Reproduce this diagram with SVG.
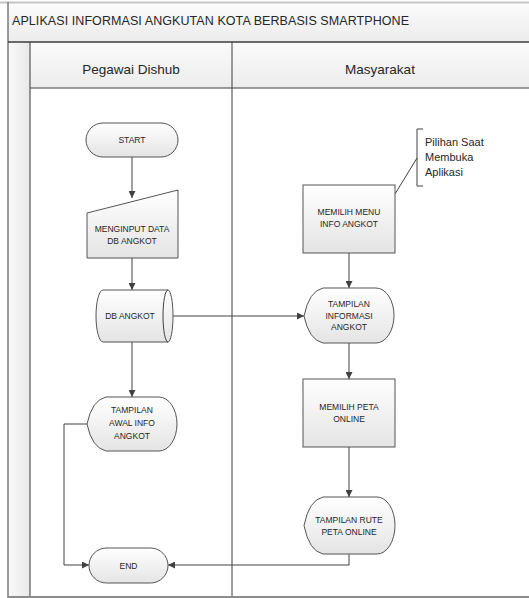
<svg xmlns="http://www.w3.org/2000/svg" width="529" height="598" viewBox="0 0 529 598">
  <defs>
    <linearGradient id="shapeFill" x1="0" y1="0" x2="0" y2="1">
      <stop offset="0" stop-color="#ffffff"/>
      <stop offset="1" stop-color="#e4e4e4"/>
    </linearGradient>
    <linearGradient id="bandFill" x1="0" y1="0" x2="0" y2="1">
      <stop offset="0" stop-color="#fbfbfb"/>
      <stop offset="1" stop-color="#ececec"/>
    </linearGradient>
    <linearGradient id="stripFill" x1="0" y1="0" x2="1" y2="0">
      <stop offset="0" stop-color="#fafafa"/>
      <stop offset="1" stop-color="#e8e8e8"/>
    </linearGradient>
    <marker id="arrow" viewBox="0 0 10 10" refX="10" refY="5" markerWidth="7" markerHeight="7" markerUnits="userSpaceOnUse" orient="auto">
      <path d="M0,0 L10,5 L0,10 Z" fill="#404040"/>
    </marker>
  </defs>
  <style>
    .shape { fill: url(#shapeFill); stroke: #555555; stroke-width: 1; }
    .label { font-family: "Liberation Sans", Arial, sans-serif; font-size: 8.5px; fill: #262626; text-anchor: middle; }
    .lane { font-family: "Liberation Sans", Arial, sans-serif; font-size: 13.5px; fill: #262626; text-anchor: middle; }
    .title { font-family: "Liberation Sans", Arial, sans-serif; font-size: 12.5px; fill: #262626; }
    .note { font-family: "Liberation Sans", Arial, sans-serif; font-size: 11px; fill: #262626; }
    .conn { fill: none; stroke: #404040; stroke-width: 1; }
  </style>

  <!-- swimlane frame -->
  <g id="frame">
    <rect x="0" y="0" width="529" height="598" fill="#ffffff"/>
    <rect x="8" y="3" width="521" height="39" fill="url(#bandFill)"/>
    <rect x="30" y="42" width="499" height="46" fill="url(#bandFill)"/>
    <rect x="8" y="42" width="22" height="555" fill="url(#stripFill)"/>
    <line x1="0" y1="2.5" x2="529" y2="2.5" stroke="#c4c4c4" stroke-width="2"/>
    <line x1="8" y1="2" x2="8" y2="598" stroke="#7a7a7a" stroke-width="1.5"/>
    <line x1="8" y1="42" x2="529" y2="42" stroke="#3c3c3c" stroke-width="1.5"/>
    <line x1="30" y1="88" x2="529" y2="88" stroke="#7a7a7a" stroke-width="1.5"/>
    <line x1="30" y1="42" x2="30" y2="598" stroke="#555555" stroke-width="1.2"/>
    <line x1="232" y1="42" x2="232" y2="598" stroke="#3c3c3c" stroke-width="1"/>
    <line x1="8" y1="597" x2="529" y2="597" stroke="#8c8c8c" stroke-width="2"/>
    <text class="title" x="12" y="25" textLength="397">APLIKASI INFORMASI ANGKUTAN KOTA BERBASIS SMARTPHONE</text>
    <text class="lane" x="131" y="74">Pegawai Dishub</text>
    <text class="lane" x="380" y="74">Masyarakat</text>
  </g>

  <!-- connectors -->
  <g id="connectors">
    <line class="conn" x1="132" y1="157" x2="132" y2="198" marker-end="url(#arrow)"/>
    <line class="conn" x1="132" y1="258" x2="132" y2="290" marker-end="url(#arrow)"/>
    <line class="conn" x1="132" y1="342" x2="132" y2="397" marker-end="url(#arrow)"/>
    <line class="conn" x1="173" y1="316" x2="304" y2="316" marker-end="url(#arrow)"/>
    <line class="conn" x1="349" y1="253" x2="349" y2="288" marker-end="url(#arrow)"/>
    <line class="conn" x1="349" y1="343" x2="349" y2="379" marker-end="url(#arrow)"/>
    <line class="conn" x1="349" y1="447" x2="349" y2="497" marker-end="url(#arrow)"/>
    <polyline class="conn" points="87,424 64,424 64,565 89,565" marker-end="url(#arrow)"/>
    <polyline class="conn" points="349,554 349,565 168,565" marker-end="url(#arrow)"/>
    <line class="conn" x1="395" y1="194" x2="417" y2="158" stroke="#606060"/>
  </g>

  <!-- Pegawai Dishub lane -->
  <g id="start">
    <rect class="shape" x="86" y="123" width="92" height="34" rx="17" ry="17"/>
    <text class="label" x="132" y="143">START</text>
  </g>
  <g id="menginput">
    <polygon class="shape" points="87,213 178,190 178,258 87,258"/>
    <text class="label" x="132" y="232">MENGINPUT DATA</text>
    <text class="label" x="132" y="243.5">DB ANGKOT</text>
  </g>
  <g id="db-angkot">
    <path class="shape" d="M103,290 L168,290 A5,26 0 0 1 168,342 L103,342 A7,26 0 0 1 103,290 Z"/>
    <path class="conn" d="M168,290 A5,26 0 0 0 168,342" stroke="#555555"/>
    <text class="label" x="130" y="319">DB ANGKOT</text>
  </g>
  <g id="tampilan-awal">
    <path class="shape" d="M87,424 Q92,400 106,397 L159,397 A18,27 0 0 1 159,451 L106,451 Q92,448 87,424 Z"/>
    <text class="label" x="132" y="413">TAMPILAN</text>
    <text class="label" x="132" y="426">AWAL INFO</text>
    <text class="label" x="132" y="439">ANGKOT</text>
  </g>
  <g id="end">
    <rect class="shape" x="89" y="548" width="79" height="35" rx="17.5" ry="17.5"/>
    <text class="label" x="128.5" y="568.5">END</text>
  </g>

  <!-- Masyarakat lane -->
  <g id="note">
    <polyline class="conn" points="423,129 417,129 417,186 423,186" stroke="#606060"/>
    <text class="note" x="425" y="146">Pilihan Saat</text>
    <text class="note" x="425" y="161">Membuka</text>
    <text class="note" x="425" y="176">Aplikasi</text>
  </g>
  <g id="memilih-menu">
    <rect class="shape" x="303" y="185" width="92" height="68"/>
    <text class="label" x="349" y="215">MEMILIH MENU</text>
    <text class="label" x="349" y="227">INFO ANGKOT</text>
  </g>
  <g id="tampilan-informasi">
    <path class="shape" d="M304,316 Q309,291 323,288 L376,288 A18,27.5 0 0 1 376,343 L323,343 Q309,340 304,316 Z"/>
    <text class="label" x="349" y="307">TAMPILAN</text>
    <text class="label" x="349" y="318.5">INFORMASI</text>
    <text class="label" x="349" y="330">ANGKOT</text>
  </g>
  <g id="memilih-peta">
    <rect class="shape" x="303" y="379" width="92" height="68"/>
    <text class="label" x="349" y="410">MEMILIH PETA</text>
    <text class="label" x="349" y="421.5">ONLINE</text>
  </g>
  <g id="tampilan-rute">
    <path class="shape" d="M304,525.5 Q309,500 323,497 L377,497 A18,28.5 0 0 1 377,554 L323,554 Q309,551 304,525.5 Z"/>
    <text class="label" x="349" y="523">TAMPILAN RUTE</text>
    <text class="label" x="349" y="535">PETA ONLINE</text>
  </g>
</svg>
